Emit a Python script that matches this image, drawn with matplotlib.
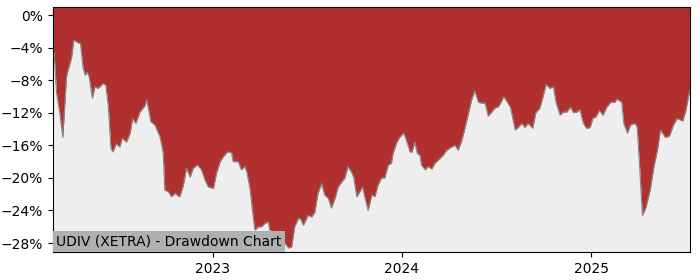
import matplotlib
matplotlib.use("Agg")
import matplotlib.pyplot as plt
import matplotlib.dates as mdates
from matplotlib.ticker import FuncFormatter
import pandas as pd

TICKER = "UDIV (XETRA)"

# drawdown in percent
dates = [
    "2022-02-26", "2022-02-28", "2022-03-05", "2022-03-11", "2022-03-17", "2022-03-24",
    "2022-03-27", "2022-04-03", "2022-04-07", "2022-04-16", "2022-04-20", "2022-04-25",
    "2022-04-29", "2022-05-03", "2022-05-07", "2022-05-13", "2022-05-18", "2022-05-24",
    "2022-06-03", "2022-06-08", "2022-06-13", "2022-06-18", "2022-06-22", "2022-06-28",
    "2022-07-05", "2022-07-10", "2022-07-18", "2022-07-25", "2022-07-30", "2022-08-05",
    "2022-08-13", "2022-08-23", "2022-08-26", "2022-08-30", "2022-09-03", "2022-09-11",
    "2022-09-21", "2022-09-27", "2022-09-30", "2022-10-07", "2022-10-13", "2022-10-20",
    "2022-10-26", "2022-10-29", "2022-11-05", "2022-11-11", "2022-11-18", "2022-11-24",
    "2022-12-02", "2022-12-10", "2022-12-17", "2022-12-23", "2023-01-02", "2023-01-08",
    "2023-01-15", "2023-01-21", "2023-01-29", "2023-02-06", "2023-02-09", "2023-02-19",
    "2023-02-25", "2023-03-04", "2023-03-08", "2023-03-14", "2023-03-19", "2023-03-23",
    "2023-03-30", "2023-04-05", "2023-04-11", "2023-04-18", "2023-04-21", "2023-04-28",
    "2023-05-04", "2023-05-14", "2023-05-20", "2023-05-27", "2023-06-02", "2023-06-08",
    "2023-06-15", "2023-06-19", "2023-06-25", "2023-07-01", "2023-07-04", "2023-07-11",
    "2023-07-17", "2023-07-23", "2023-07-30", "2023-08-05", "2023-08-12", "2023-08-18",
    "2023-08-25", "2023-08-31", "2023-09-07", "2023-09-13", "2023-09-19", "2023-09-26",
    "2023-09-30", "2023-10-06", "2023-10-12", "2023-10-17", "2023-10-22", "2023-10-28",
    "2023-11-04", "2023-11-10", "2023-11-16", "2023-11-23", "2023-11-29", "2023-12-06",
    "2023-12-12", "2023-12-15", "2023-12-22", "2023-12-28", "2024-01-05", "2024-01-11",
    "2024-01-17", "2024-01-21", "2024-01-26", "2024-01-31", "2024-02-05", "2024-02-08",
    "2024-02-15", "2024-02-21", "2024-02-28", "2024-03-05", "2024-03-15", "2024-03-21",
    "2024-03-28", "2024-04-06", "2024-04-13", "2024-04-19", "2024-04-26", "2024-05-02",
    "2024-05-08", "2024-05-15", "2024-05-21", "2024-05-28", "2024-06-03", "2024-06-10",
    "2024-06-16", "2024-06-23", "2024-06-29", "2024-07-05", "2024-07-10", "2024-07-16",
    "2024-07-23", "2024-07-29", "2024-08-07", "2024-08-13", "2024-08-20", "2024-08-26",
    "2024-09-01", "2024-09-10", "2024-09-16", "2024-09-24", "2024-09-30", "2024-10-06",
    "2024-10-13", "2024-10-20", "2024-10-25", "2024-11-02", "2024-11-08", "2024-11-15",
    "2024-11-22", "2024-11-28", "2024-12-05", "2024-12-10", "2024-12-17", "2024-12-23",
    "2024-12-30", "2025-01-04", "2025-01-10", "2025-01-17", "2025-01-24", "2025-01-31",
    "2025-02-08", "2025-02-16", "2025-02-20", "2025-03-01", "2025-03-05", "2025-03-12",
    "2025-03-18", "2025-03-27", "2025-03-31", "2025-04-05", "2025-04-10", "2025-04-17",
    "2025-04-25", "2025-05-02", "2025-05-09", "2025-05-15", "2025-05-24", "2025-06-01",
    "2025-06-09", "2025-06-16", "2025-06-27", "2025-07-03", "2025-07-08", "2025-07-11",
]
drawdown = [
    -4.5, -4.6, -9.6, -12.0, -15.0, -7.6,
    -6.8, -5.2, -3.1, -3.4, -3.5, -6.4,
    -7.4, -7.0, -7.6, -10.2, -8.8, -9.0,
    -8.4, -8.6, -11.3, -16.4, -16.8, -15.8,
    -16.2, -15.1, -15.6, -14.5, -12.7, -13.3,
    -11.9, -11.1, -10.4, -11.7, -13.1, -13.5,
    -15.0, -17.0, -21.5, -21.7, -22.3, -21.9,
    -22.2, -22.3, -20.9, -18.8, -19.9, -18.8,
    -18.4, -19.0, -20.3, -21.1, -21.3, -19.4,
    -18.0, -17.4, -16.8, -16.9, -18.0, -18.0,
    -19.0, -18.6, -19.4, -21.5, -24.3, -26.4,
    -26.0, -26.0, -25.6, -25.4, -26.4, -26.7,
    -27.0, -27.4, -28.0, -28.6, -28.5, -26.0,
    -25.0, -25.0, -25.8, -25.0, -24.6, -24.8,
    -24.2, -21.9, -20.7, -22.1, -22.5, -23.7,
    -22.5, -21.1, -20.5, -20.0, -18.6, -19.3,
    -19.9, -22.3, -21.7, -21.1, -22.5, -24.0,
    -22.1, -22.3, -20.9, -20.0, -20.0, -18.4,
    -18.2, -17.0, -15.7, -15.0, -14.5, -15.6,
    -16.8, -16.8, -15.6, -17.0, -17.2, -18.4,
    -19.0, -18.6, -18.9, -18.2, -17.6, -17.2,
    -16.6, -16.2, -16.0, -16.6, -15.4, -13.9,
    -12.3, -10.4, -9.3, -10.7, -10.8, -10.8,
    -12.4, -11.9, -11.4, -11.3, -10.8, -10.0,
    -10.7, -11.3, -14.1, -13.8, -13.3, -13.8,
    -13.3, -13.9, -12.0, -11.4, -10.0, -8.5,
    -9.0, -8.8, -10.7, -12.3, -11.9, -11.9,
    -11.3, -12.0, -11.9, -11.6, -13.3, -13.9,
    -13.8, -12.7, -12.5, -11.7, -12.3, -11.3,
    -10.7, -10.7, -10.3, -10.7, -13.3, -14.5,
    -13.5, -13.3, -13.8, -19.0, -24.6, -23.6,
    -21.5, -18.7, -16.6, -14.1, -15.0, -14.9,
    -13.5, -12.7, -13.0, -11.7, -10.0, -9.2,
]

yticks = [0, -4, -8, -12, -16, -20, -24, -28]
ylim = (-29.1, 1.0)

df = pd.DataFrame({"date": pd.to_datetime(dates), "dd": drawdown})

fig = plt.figure(figsize=(7, 2.8), dpi=100)
ax = fig.add_axes([0.0757, 0.1, 0.91, 0.875])
ax.set_facecolor("#eeeeee")

# red area runs from the curve up to the top of the axes
ax.fill_between(df["date"], df["dd"], ylim[1], color="#b03030", linewidth=0)
ax.plot(df["date"], df["dd"], color="#888888", linewidth=0.8)

ax.set_xlim(df["date"].iloc[0], df["date"].iloc[-1])
ax.set_ylim(*ylim)
ax.set_yticks(yticks)
ax.yaxis.set_major_formatter(FuncFormatter(lambda v, p: f"{v:.0f}%".replace("-", "\u2212")))
ax.xaxis.set_major_locator(mdates.YearLocator())
ax.xaxis.set_major_formatter(mdates.DateFormatter("%Y"))
ax.tick_params(labelsize=10)

ax.text(0.005, 0.015, f"{TICKER} - Drawdown Chart", transform=ax.transAxes,
        fontsize=10, va="bottom", ha="left",
        bbox=dict(facecolor="#b0b0b0", edgecolor="none", pad=2.5))

fig.savefig("out.png", dpi=100)
